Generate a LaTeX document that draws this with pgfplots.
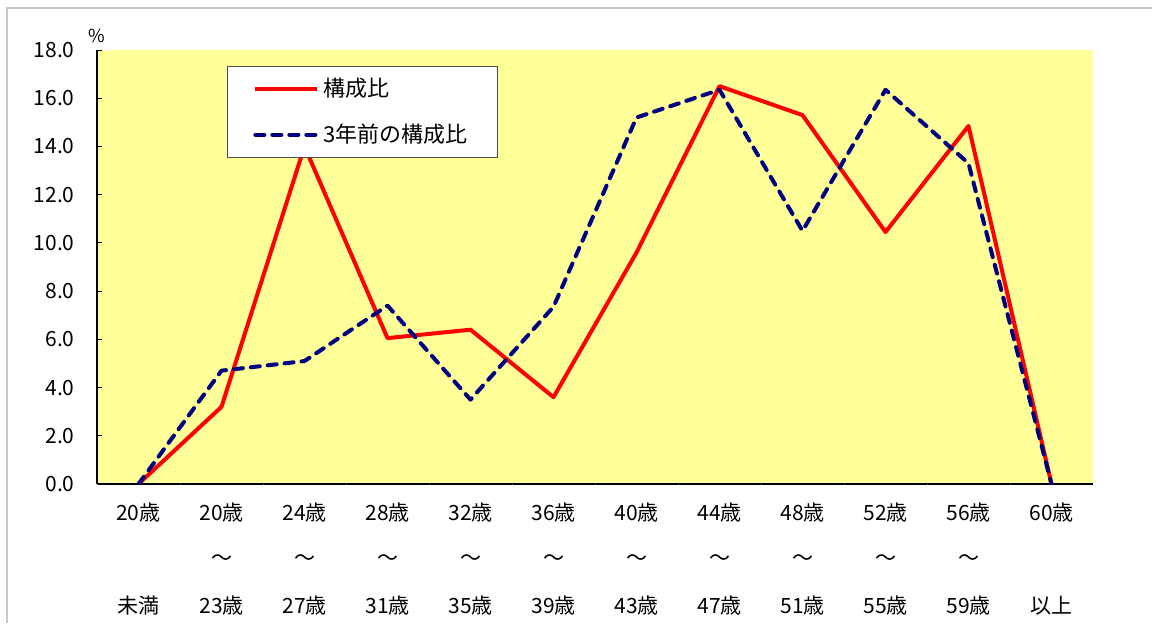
\documentclass[border=0pt]{standalone}
\usepackage{fontspec}
\setmainfont{Noto Sans CJK JP}
\usepackage{pgfplots}
\pgfplotsset{compat=1.18}
\definecolor{bgyellow}{RGB}{255,255,153}
\definecolor{navyline}{RGB}{0,0,128}
\begin{document}
\begin{tikzpicture}
\useasboundingbox (0,0) rectangle (576pt,311.5pt);
\draw[black!22, line width=0.8pt] (3.5pt,0) -- (3.5pt,307.5pt) -- (576pt,307.5pt);
\begin{axis}[
  at={(48.5pt,69.5pt)}, anchor=south west,
  scale only axis, width=498pt, height=217pt,
  xmin=-0.5, xmax=11.5, ymin=0, ymax=18,
  axis x line*=bottom, axis y line*=left,
  axis line style={black, line width=0.6pt},
  axis background/.style={fill=bgyellow},
  xtick={0,...,11},
  xticklabels={
    {20歳\\[10pt]\phantom{～}\\[11.5pt]未満},
    {20歳\\[10pt]～\\[11.5pt]23歳},
    {24歳\\[10pt]～\\[11.5pt]27歳},
    {28歳\\[10pt]～\\[11.5pt]31歳},
    {32歳\\[10pt]～\\[11.5pt]35歳},
    {36歳\\[10pt]～\\[11.5pt]39歳},
    {40歳\\[10pt]～\\[11.5pt]43歳},
    {44歳\\[10pt]～\\[11.5pt]47歳},
    {48歳\\[10pt]～\\[11.5pt]51歳},
    {52歳\\[10pt]～\\[11.5pt]55歳},
    {56歳\\[10pt]～\\[11.5pt]59歳},
    {60歳\\[10pt]\phantom{～}\\[11.5pt]以上}},
  xtick style={draw=none},
  xticklabel style={align=center, anchor=north, inner sep=0pt, yshift=-9pt,
    font=\fontsize{10.5pt}{12.5pt}\selectfont},
  ytick={0,2,...,18},
  tick align=inside, major tick length=2.5pt,
  ytick style={black, line width=0.5pt},
  yticklabel style={inner sep=0pt, xshift=-11pt, font=\fontsize{10.5pt}{12.5pt}\selectfont},
  /pgf/number format/assume math mode=true,
  /pgf/number format/.cd, fixed, fixed zerofill, precision=1, /pgfplots/.cd,
  legend style={at={(0.1305,0.963)}, anchor=north west, draw=black!70, fill=white,
    inner xsep=13pt, inner ysep=4pt, row sep=8pt,
    font=\fontsize{11pt}{13pt}\selectfont, cells={anchor=west}},
  legend image code/.code={\draw[#1] (0pt,0pt) -- (31pt,0pt);},
]
\addplot[red, line width=2pt, line join=round] coordinates {
  (0,0) (1,3.2) (2,14.0) (3,6.05) (4,6.4) (5,3.6) (6,9.6) (7,16.5) (8,15.3) (9,10.45) (10,14.85) (11,0)};
\addlegendentry{構成比}
\addplot[navyline, line width=2pt, line cap=round, line join=round, dash pattern=on 4.5pt off 4pt] coordinates {
  (0,0) (1,4.7) (2,5.1) (3,7.4) (4,3.5) (5,7.35) (6,15.2) (7,16.35) (8,10.5) (9,16.35) (10,13.3) (11,0)};
\addlegendentry{3年前の構成比}
\pgfplotsinvokeforeach{-0.5,0.5,...,11.5}{
  \draw[black!60, line width=0.5pt] (axis cs:#1,0) -- ++(0pt,-70pt);
}
\end{axis}
\node[anchor=south, inner sep=0pt, font=\fontsize{9pt}{10pt}\selectfont] at (48.5pt,290pt) {\%};
\end{tikzpicture}
\end{document}
